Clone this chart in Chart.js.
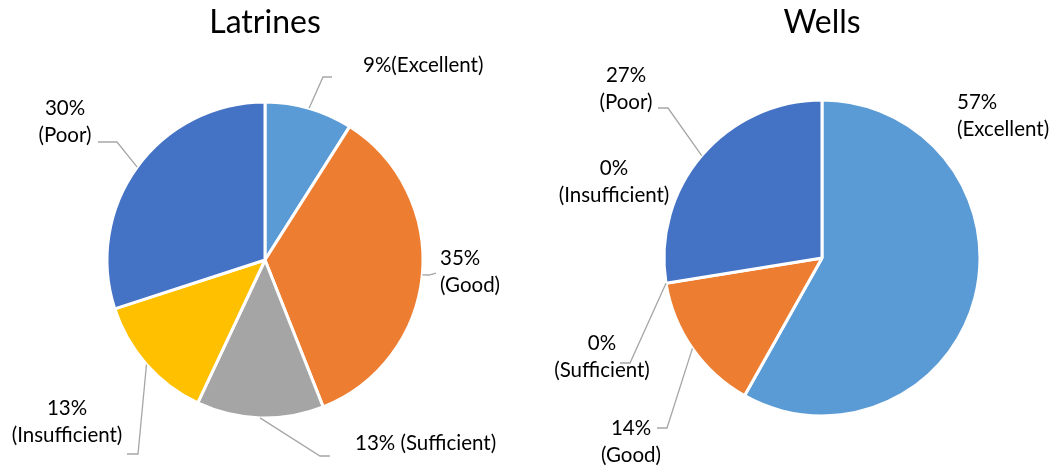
<!DOCTYPE html>
<html>
<head>
<meta charset="utf-8">
<script src="https://cdn.jsdelivr.net/npm/chart.js@4"></script>
<style>
  html, body { margin: 0; padding: 0; background: #fff; overflow: hidden; }
  #wrap { position: relative; width: 1060px; height: 467px; }
  canvas { position: absolute; top: 0; }
</style>
</head>
<body>
<div id="wrap">
  <canvas id="latrines" width="530" height="467" style="left:0"></canvas>
  <canvas id="wells" width="530" height="467" style="left:530px"></canvas>
</div>
<script>
// ===== DATA =====
const categories = ['Excellent', 'Good', 'Sufficient', 'Insufficient', 'Poor'];
const latrinesValues = [9, 35, 13, 13, 30];
const wellsValues = [57, 14, 0, 0, 27];
const sliceColors = ['#5B9BD5', '#ED7D31', '#A5A5A5', '#FFC000', '#4472C4'];

const FONT = 'Lato, "Open Sans", sans-serif';

// label boxes + leader bends, page coords (one entry per category)
const latrinesCallouts = [
    { sep: '', x: 363, y: 65, align: 'left', leader: [[323, 77], [332, 77]] },
    { sep: '\n', x: 440, y: 258, align: 'left', leader: [[429, 275], [436, 273]] },
    { sep: ' ', x: 355, y: 443, align: 'left', leader: [[320, 456], [330, 456]] },
    { sep: '\n', x: 67, y: 408, align: 'center', leader: [[138, 454], [127, 454]] },
    { sep: '\n', x: 65, y: 108, align: 'center', leader: [[117, 142], [98, 142]] }
];
const wellsCallouts = [
    { sep: '\n', x: 957, y: 102, align: 'left', leader: null },
    { sep: '\n', x: 631, y: 428, align: 'center', leader: [[667, 428], [657, 428]] },
    { sep: '\n', x: 602, y: 343, align: 'center', leader: [[630, 363], [620, 363]] },
    { sep: '\n', x: 614, y: 168, align: 'center', leader: null },
    { sep: '\n', x: 626, y: 75, align: 'center', leader: [[668, 108], [658, 108]] }
];

// title + callout labels with leader lines (positions given in page coords)
const calloutPlugin = {
    id: 'callouts',
    afterDraw(chart, args, opts) {
        const ctx = chart.ctx;
        const meta = chart.getDatasetMeta(0);
        const values = chart.data.datasets[0].data;
        const dx = -opts.offsetX;
        ctx.save();

        // title
        ctx.fillStyle = '#000';
        ctx.font = '32px ' + FONT;
        ctx.textAlign = 'center';
        ctx.textBaseline = 'middle';
        ctx.fillText(opts.title, meta.data[0].x, 23);

        ctx.font = '20.5px ' + FONT;
        ctx.strokeStyle = '#A6A6A6';
        ctx.lineWidth = 1.3;

        opts.items.forEach((item, i) => {
            const arc = meta.data[i];
            if (item.leader) {
                const mid = (arc.startAngle + arc.endAngle) / 2;
                ctx.beginPath();
                ctx.moveTo(arc.x + Math.cos(mid) * arc.outerRadius, arc.y + Math.sin(mid) * arc.outerRadius);
                item.leader.forEach(p => ctx.lineTo(p[0] + dx, p[1]));
                ctx.stroke();
            }
            const text = values[i] + '%' + item.sep + '(' + categories[i] + ')';
            ctx.textAlign = item.align;
            text.split('\n').forEach((line, k) => {
                ctx.fillText(line, item.x + dx, item.y + k * 27);
            });
        });
        ctx.restore();
    }
};

function makePie(id, title, values, items, padding, offsetX) {
    return new Chart(document.getElementById(id), {
        type: 'pie',
        data: {
            labels: categories,
            datasets: [{
                data: values,
                backgroundColor: sliceColors,
                borderColor: '#fff',
                borderWidth: 3,
                radius: 158
            }]
        },
        options: {
            responsive: false,
            animation: false,
            layout: { padding: padding },
            plugins: {
                legend: { display: false },
                tooltip: { enabled: false },
                callouts: { title: title, items: items, offsetX: offsetX }
            }
        },
        plugins: [calloutPlugin]
    });
}

makePie('latrines', 'Latrines', latrinesValues, latrinesCallouts, { top: 53, bottom: 0, left: 0, right: 0 }, 0);
makePie('wells', 'Wells', wellsValues, wellsCallouts, { top: 49, bottom: 0, left: 54, right: 0 }, 530);
</script>
</body>
</html>
